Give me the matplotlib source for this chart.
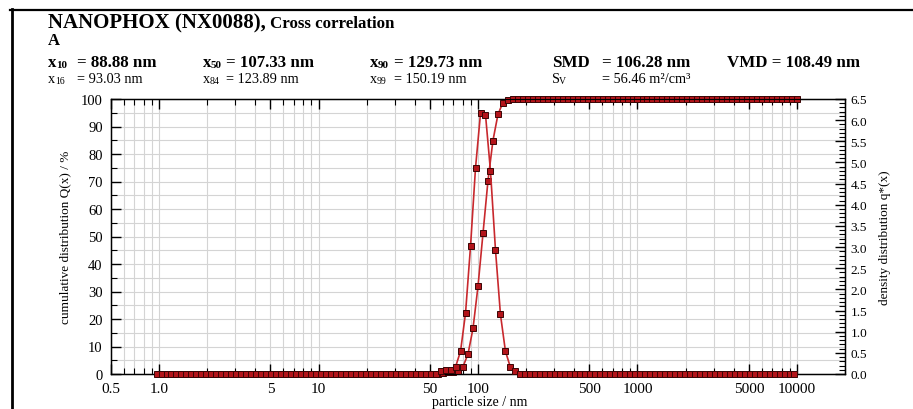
import numpy as np
import matplotlib
matplotlib.use('Agg')
import matplotlib.pyplot as plt
from matplotlib.ticker import (FixedLocator, FixedFormatter, MultipleLocator,
                               LogLocator, NullFormatter, FormatStrFormatter)
from matplotlib.lines import Line2D

plt.rcParams['font.family'] = ['Liberation Serif', 'DejaVu Serif']

# class limits of the size classes / nm (32 classes per decade)
size_bounds = [0.9306,
    1.000, 1.075, 1.155, 1.241, 1.334, 1.433, 1.540, 1.655, 1.778, 1.911,
    2.054, 2.207, 2.371, 2.548, 2.738, 2.943, 3.162, 3.398, 3.652, 3.924,
    4.217, 4.532, 4.870, 5.233, 5.623, 6.043, 6.494, 6.978, 7.499, 8.058,
    8.660, 9.306,
    10.00, 10.75, 11.55, 12.41, 13.34, 14.33, 15.40, 16.55, 17.78, 19.11,
    20.54, 22.07, 23.71, 25.48, 27.38, 29.43, 31.62, 33.98, 36.52, 39.24,
    42.17, 45.32, 48.70, 52.33, 56.23, 60.43, 64.94, 69.78, 74.99, 80.58,
    86.60, 93.06,
    100.0, 107.5, 115.5, 124.1, 133.4, 143.3, 154.0, 165.5, 177.8, 191.1,
    205.4, 220.7, 237.1, 254.8, 273.8, 294.3, 316.2, 339.8, 365.2, 392.4,
    421.7, 453.2, 487.0, 523.3, 562.3, 604.3, 649.4, 697.8, 749.9, 805.8,
    866.0, 930.6,
    1000, 1075, 1155, 1241, 1334, 1433, 1540, 1655, 1778, 1911,
    2054, 2207, 2371, 2548, 2738, 2943, 3162, 3398, 3652, 3924,
    4217, 4532, 4870, 5233, 5623, 6043, 6494, 6978, 7499, 8058,
    8660, 9306,
    10000]

# cumulative distribution Q(x) / % at the upper class limits
cum_Q = ([0.0] * 57 +
         [0.3, 0.6, 0.9, 1.2, 2.7, 7.3, 16.6, 31.9, 51.3, 70.3, 84.9, 94.4, 98.7, 99.7] +
         [100.0] * 58)

# density distribution q*(x) at the class centres
dens_q = ([0.0] * 57 +
          [0.08, 0.10, 0.10, 0.17, 0.54, 1.44, 3.02, 4.87, 6.16, 6.13, 4.80, 2.94,
           1.41, 0.54, 0.16, 0.06] +
          [0.0] * 56)

x_ticks = [0.5, 1, 5, 10, 50, 100, 500, 1000, 5000, 10000]
x_tick_labels = ['0.5', '1.0', '5', '10', '50', '100', '500', '1000', '5000', '10000']

# characteristic values printed above the chart
bold_names = ['10', '50', '90']
bold_values = ['= 88.88 nm', '= 107.33 nm', '= 129.73 nm']
reg_names = ['16', '84', '99']
reg_values = ['= 93.03 nm', '= 123.89 nm', '= 150.19 nm']
smd_text = '= 106.28 nm'
vmd_text = 'VMD = 108.49 nm'
sv_text = '= 56.46 m\u00b2/cm\u00b3'

W, H = 913, 410
fig = plt.figure(figsize=(W / 100, H / 100), dpi=100)


def put(x, y, s, **kw):
    # place text by pixel position (baseline)
    fig.text(x / W, 1 - y / H, s, va='baseline', ha='left', **kw)


# black frame lines at top and left
fig.add_artist(Line2D([10 / W, 1], [1 - 11 / H, 1 - 11 / H], color='black', lw=1.6))
fig.add_artist(Line2D([11.5 / W, 11.5 / W], [0, 1 - 10 / H], color='black', lw=2.0))

put(48, 28, 'NANOPHOX (NX0088),', fontsize=15, fontweight='bold')
put(270, 28, 'Cross correlation', fontsize=12.2, fontweight='bold')
put(48, 45, 'A', fontsize=12, fontweight='bold')

col_x = [48, 203, 370]
eq_x = [77, 226, 394]
for i in range(3):
    put(col_x[i], 67, 'x', fontsize=12.2, fontweight='bold')
    put(col_x[i] + 8, 68, bold_names[i], fontsize=8, fontweight='bold')
    put(eq_x[i], 67, bold_values[i], fontsize=12.2, fontweight='bold')
    put(col_x[i], 83, 'x', fontsize=10.3)
    put(col_x[i] + 7, 84, reg_names[i], fontsize=7)
    put(eq_x[i], 83, reg_values[i], fontsize=10.3)

put(552, 67, 'SMD', fontsize=12.2, fontweight='bold')
put(602, 67, smd_text, fontsize=12.2, fontweight='bold')
put(727, 67, vmd_text, fontsize=12.2, fontweight='bold')
put(552, 83, 'S', fontsize=10.3)
put(559, 84, 'V', fontsize=7)
put(602, 83, sv_text, fontsize=10.3)

# axes
ax = fig.add_axes([111 / W, 35 / H, 734 / W, 275 / H])
ax.set_xscale('log')
ax.set_xlim(0.5, 20000)
ax.set_ylim(0, 100)

line_red = '#c8282d'
fill_red = '#b3141a'
edge_dark = '#3a0505'

bounds = np.array(size_bounds)
x_cum = bounds[1:]
x_dens = np.sqrt(bounds[:-1] * bounds[1:])

ax.plot(x_cum, cum_Q, '-s', color=line_red, lw=1.2, ms=4.8, mfc=fill_red,
        mec=edge_dark, mew=0.7, clip_on=False, zorder=3)

ax.xaxis.set_major_locator(FixedLocator(x_ticks))
ax.xaxis.set_major_formatter(FixedFormatter(x_tick_labels))
ax.xaxis.set_minor_locator(LogLocator(base=10, subs=np.arange(2, 10), numticks=30))
ax.xaxis.set_minor_formatter(NullFormatter())
ax.yaxis.set_major_locator(MultipleLocator(10))
ax.yaxis.set_minor_locator(MultipleLocator(5))
ax.grid(True, which='both', color='#d4d4d4', lw=0.8)
ax.set_axisbelow(True)
ax.tick_params(axis='both', which='both', direction='in', top=True, right=False,
               colors='black', labelsize=10.5)
ax.tick_params(axis='x', labelsize=11, pad=6)
ax.tick_params(axis='y', pad=6)
ax.tick_params(which='major', length=7, width=1.0)
ax.tick_params(which='minor', length=4, width=0.8)
for sp in ax.spines.values():
    sp.set_linewidth(1.0)

ax2 = ax.twinx()
ax2.set_ylim(0, 6.5)
ax2.plot(x_dens, dens_q, '-s', color=line_red, lw=1.2, ms=4.8, mfc=fill_red,
         mec=edge_dark, mew=0.7, clip_on=False, zorder=3)
ax2.yaxis.set_major_locator(MultipleLocator(0.5))
ax2.yaxis.set_minor_locator(MultipleLocator(0.1))
ax2.yaxis.set_major_formatter(FormatStrFormatter('%.1f'))
ax2.tick_params(axis='y', which='both', direction='in', labelsize=9.5, pad=4)
ax2.tick_params(which='major', length=7, width=1.0)
ax2.tick_params(which='minor', length=4, width=0.8)

fig.text(65 / W, 1 - 237 / H, 'cumulative distribution Q(x) / %', rotation=90,
         ha='center', va='center', fontsize=9.5)
fig.text(885 / W, 1 - 238 / H, 'density distribution q*(x)', rotation=90,
         ha='center', va='center', fontsize=9.5)
fig.text(480 / W, 1 / H, 'particle size / nm', ha='center', va='bottom',
         fontsize=10)

fig.savefig('out.png', dpi=100)
